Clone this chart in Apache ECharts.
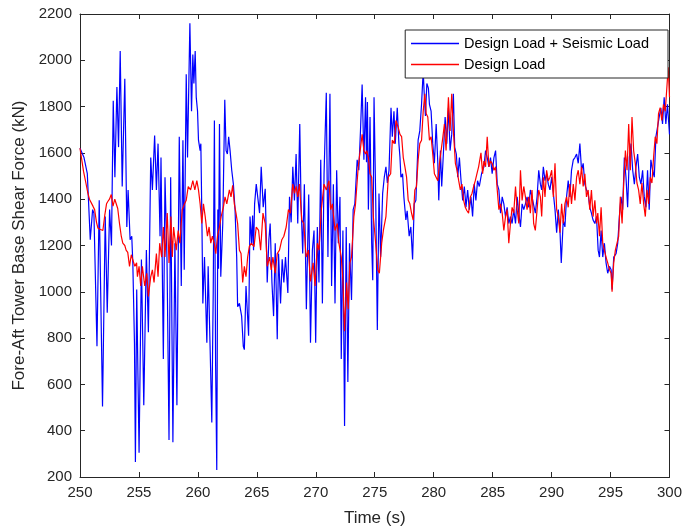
<!DOCTYPE html>
<html>
<head>
<meta charset="utf-8">
<script src="https://cdn.jsdelivr.net/npm/echarts@6/dist/echarts.min.js"></script>
<style>
  html, body { margin: 0; padding: 0; background: #fff; }
  #chart { width: 685px; height: 532px; }
</style>
</head>
<body>
<div id="chart"></div>
<script>
// Design Load + Seismic Load (blue)
var seismicTime = [
  250.0, 250.34, 250.62, 250.87, 251.07, 251.18, 251.44, 251.63, 251.91, 252.14,
  252.31, 252.51, 252.67, 252.82, 252.96, 253.13, 253.27, 253.41, 253.58, 253.8,
  253.97, 254.08, 254.25, 254.39, 254.48, 254.62, 254.7, 254.81, 255.01, 255.21,
  255.41, 255.63, 255.8, 256.0, 256.14, 256.33, 256.48, 256.62, 256.79, 256.87,
  257.07, 257.21, 257.38, 257.55, 257.69, 257.88, 258.05, 258.22, 258.42, 258.59,
  258.73, 258.84, 259.01, 259.12, 259.32, 259.46, 259.57, 259.66, 259.77, 259.86,
  259.97, 260.05, 260.19, 260.25, 260.33, 260.42, 260.56, 260.76, 260.87, 261.04,
  261.18, 261.3, 261.4, 261.5, 261.6, 261.69, 261.75, 261.83, 261.94, 262.11,
  262.28, 262.39, 262.5, 262.61, 262.73, 262.87, 263.01, 263.15, 263.29, 263.37,
  263.52, 263.71, 263.85, 263.94, 264.08, 264.19, 264.3, 264.42, 264.56, 264.64,
  264.72, 264.81, 264.95, 265.09, 265.23, 265.37, 265.54, 265.71, 265.88, 266.02,
  266.13, 266.28, 266.42, 266.56, 266.73, 266.84, 267.01, 267.15, 267.29, 267.43,
  267.63, 267.77, 267.91, 268.05, 268.19, 268.33, 268.47, 268.64, 268.75, 268.89,
  269.03, 269.2, 269.4, 269.55, 269.71, 269.85, 269.99, 270.13, 270.27, 270.42,
  270.56, 270.7, 270.89, 271.03, 271.2, 271.34, 271.49, 271.63, 271.77, 271.91,
  272.05, 272.16, 272.3, 272.44, 272.58, 272.72, 272.86, 273.03, 273.17, 273.31,
  273.51, 273.65, 273.79, 273.93, 274.08, 274.22, 274.3, 274.38, 274.46, 274.6,
  274.74, 274.83, 274.94, 275.08, 275.22, 275.36, 275.5, 275.67, 275.81, 275.95,
  276.07, 276.21, 276.38, 276.49, 276.63, 276.74, 276.91, 277.05, 277.14, 277.22,
  277.36, 277.47, 277.64, 277.75, 277.92, 278.06, 278.21, 278.35, 278.49, 278.68,
  278.82, 278.97, 279.11, 279.2, 279.3, 279.42, 279.55, 279.64, 279.78, 279.92,
  280.06, 280.21, 280.35, 280.43, 280.57, 280.68, 280.82, 280.97, 281.11, 281.25,
  281.39, 281.53, 281.67, 281.78, 281.92, 282.04, 282.18, 282.32, 282.46, 282.6,
  282.74, 282.88, 283.02, 283.16, 283.3, 283.44, 283.58, 283.72, 283.87, 284.06,
  284.26, 284.4, 284.54, 284.68, 284.82, 284.96, 285.11, 285.25, 285.39, 285.53,
  285.67, 285.81, 285.95, 286.09, 286.23, 286.37, 286.51, 286.65, 286.79, 286.94,
  287.08, 287.22, 287.36, 287.5, 287.64, 287.78, 287.92, 288.06, 288.2, 288.34,
  288.48, 288.62, 288.77, 288.91, 289.05, 289.16, 289.3, 289.44, 289.58, 289.72,
  289.86, 290.01, 290.15, 290.29, 290.43, 290.57, 290.71, 290.82, 290.99, 291.13,
  291.27, 291.41, 291.55, 291.69, 291.84, 291.98, 292.12, 292.26, 292.4, 292.54,
  292.68, 292.82, 292.96, 293.1, 293.24, 293.38, 293.52, 293.67, 293.81, 293.95,
  294.06, 294.2, 294.34, 294.48, 294.62, 294.76, 294.91, 295.05, 295.13, 295.27,
  295.47, 295.61, 295.75, 295.89, 296.03, 296.17, 296.31, 296.45, 296.59, 296.74,
  296.88, 297.02, 297.16, 297.3, 297.44, 297.58, 297.72, 297.86, 298.0, 298.14,
  298.28, 298.42, 298.57, 298.71, 298.85, 298.99, 299.13, 299.27, 299.41, 299.55,
  299.69, 299.83, 300.0
];
var seismicForce = [
  1620, 1580, 1510, 1225, 1355, 1340, 765, 1395, 505, 1325,
  910, 1355, 1200, 1825, 1495, 1885, 1625, 2040, 1455, 1920,
  1280, 1440, 1225, 1240, 1125, 780, 265, 1010, 305, 1140,
  510, 1180, 825, 1580, 1440, 1675, 1440, 1640, 1240, 1580,
  710, 1495, 1140, 360, 1495, 350, 1210, 510, 1670, 1025,
  1655, 1095, 1940, 1580, 2160, 1780, 2025, 1900, 2040, 1840,
  1780, 1655, 1610, 1640, 1350, 950, 1150, 780, 1110, 750,
  435, 1000, 1740, 700, 230, 1355, 1100, 1725, 1065, 1295,
  1830, 1610, 1595, 1670, 1610, 1525, 1465, 1355, 1150, 935,
  950, 895, 765, 750, 1025, 1025, 810, 1325, 1210, 1330,
  1180, 1380, 1465, 1460, 1340, 1540, 1365, 1445, 1040, 1225,
  1295, 1040, 895, 1210, 795, 1165, 950, 1140, 1040, 1150,
  995, 1410, 1300, 1540, 1395, 1595, 1295, 1725, 1380, 1165,
  1465, 925, 1420, 780, 1180, 1265, 780, 1280, 1040, 1570,
  950, 1510, 1860, 1150, 1855, 1025, 1465, 950, 1525, 1210,
  1410, 710, 1265, 420, 1280, 610, 1210, 965, 1355, 1380,
  1570, 1525, 1695, 1895, 1570, 1840, 1560, 1820, 1355, 1755,
  1210, 1050, 1840, 1410, 835, 1425, 1150, 1425, 1495, 1540,
  1470, 1525, 1795, 1670, 1780, 1640, 1795, 1640, 1580, 1495,
  1510, 1410, 1310, 1350, 1240, 1280, 1140, 1380, 1395, 1655,
  1695, 1810, 1955, 1850, 1760, 1900, 1880, 1810, 1780, 1640,
  1555, 1725, 1555, 1395, 1610, 1455, 1595, 1755, 1640, 1795,
  1610, 1680, 1855, 1625, 1595, 1495, 1580, 1480, 1395, 1455,
  1365, 1440, 1355, 1410, 1325, 1465, 1395, 1480, 1455, 1510,
  1540, 1610, 1580, 1540, 1580, 1510, 1580, 1610, 1465, 1440,
  1340, 1410, 1380, 1325, 1365, 1295, 1325, 1295, 1355, 1295,
  1410, 1340, 1280, 1380, 1355, 1380, 1410, 1365, 1440, 1410,
  1410, 1340, 1410, 1525, 1465, 1440, 1540, 1480, 1510, 1465,
  1440, 1495, 1425, 1355, 1255, 1355, 1265, 1125, 1310, 1280,
  1410, 1480, 1410, 1525, 1570, 1580, 1595, 1555, 1640, 1525,
  1555, 1465, 1440, 1425, 1365, 1340, 1310, 1295, 1325, 1180,
  1150, 1265, 1150, 1210, 1125, 1080, 1110, 1095, 1010, 1150,
  1165, 1210, 1325, 1410, 1355, 1580, 1495, 1365, 1580, 1640,
  1525, 1465, 1540, 1595, 1495, 1465, 1525, 1410, 1365, 1525,
  1355, 1570, 1525, 1495, 1670, 1670, 1755, 1795, 1725, 1840,
  1725, 1810, 1680
];

// Design Load (red)
var designTime = [
  250.0, 250.3, 250.5, 250.65, 250.8, 250.96, 251.1, 251.24, 251.4, 251.52,
  251.7, 251.94, 252.1, 252.25, 252.36, 252.5, 252.65, 252.8, 252.95, 253.07,
  253.2, 253.35, 253.5, 253.63, 253.8, 253.91, 254.05, 254.2, 254.35, 254.48,
  254.65, 254.8, 254.87, 255.01, 255.15, 255.29, 255.49, 255.66, 255.8, 256.0,
  256.14, 256.28, 256.48, 256.62, 256.76, 256.93, 257.07, 257.21, 257.4, 257.55,
  257.71, 257.83, 257.94, 258.16, 258.33, 258.47, 258.67, 258.87, 259.01, 259.18,
  259.38, 259.57, 259.74, 259.91, 260.05, 260.19, 260.33, 260.47, 260.62, 260.81,
  260.95, 261.09, 261.23, 261.38, 261.52, 261.66, 261.83, 261.97, 262.16, 262.3,
  262.45, 262.67, 262.81, 262.95, 263.09, 263.23, 263.37, 263.52, 263.66, 263.8,
  263.94, 264.08, 264.22, 264.36, 264.53, 264.76, 264.95, 265.15, 265.32, 265.52,
  265.71, 265.88, 266.08, 266.22, 266.36, 266.56, 266.73, 266.92, 267.12, 267.29,
  267.49, 267.68, 267.85, 268.05, 268.19, 268.33, 268.47, 268.61, 268.81, 268.98,
  269.18, 269.37, 269.55, 269.77, 269.94, 270.13, 270.27, 270.47, 270.7, 270.89,
  271.12, 271.26, 271.4, 271.63, 271.82, 271.96, 272.16, 272.3, 272.44, 272.61,
  272.75, 272.89, 273.03, 273.23, 273.37, 273.6, 273.74, 273.93, 274.08, 274.22,
  274.32, 274.46, 274.6, 274.74, 274.88, 275.08, 275.25, 275.39, 275.59, 275.73,
  275.95, 276.15, 276.35, 276.49, 276.66, 276.8, 276.99, 277.14, 277.28, 277.42,
  277.56, 277.7, 277.84, 277.98, 278.12, 278.26, 278.4, 278.54, 278.68, 278.82,
  278.97, 279.11, 279.25, 279.36, 279.5, 279.64, 279.78, 279.92, 280.06, 280.21,
  280.35, 280.49, 280.63, 280.77, 280.91, 281.05, 281.25, 281.39, 281.53, 281.67,
  281.84, 281.98, 282.12, 282.26, 282.4, 282.54, 282.68, 282.82, 282.96, 283.11,
  283.25, 283.39, 283.53, 283.67, 283.81, 284.01, 284.15, 284.26, 284.4, 284.54,
  284.68, 284.82, 284.96, 285.11, 285.25, 285.39, 285.53, 285.67, 285.81, 285.95,
  286.09, 286.23, 286.37, 286.51, 286.65, 286.79, 286.94, 287.08, 287.22, 287.36,
  287.5, 287.64, 287.78, 287.92, 288.06, 288.2, 288.34, 288.48, 288.62, 288.77,
  288.91, 289.05, 289.16, 289.3, 289.44, 289.58, 289.72, 289.86, 290.01, 290.15,
  290.29, 290.43, 290.57, 290.71, 290.85, 290.99, 291.13, 291.27, 291.41, 291.55,
  291.69, 291.84, 291.98, 292.12, 292.26, 292.4, 292.54, 292.68, 292.82, 292.96,
  293.1, 293.24, 293.38, 293.52, 293.67, 293.81, 293.92, 294.06, 294.2, 294.34,
  294.48, 294.62, 294.76, 294.91, 295.05, 295.13, 295.27, 295.41, 295.55, 295.69,
  295.83, 295.98, 296.12, 296.26, 296.4, 296.54, 296.68, 296.82, 296.96, 297.1,
  297.24, 297.38, 297.52, 297.66, 297.81, 297.95, 298.09, 298.23, 298.37, 298.51,
  298.65, 298.79, 298.93, 299.07, 299.21, 299.35, 299.49, 299.64, 299.78, 299.89,
  300.0
];
var designForce = [
  1620, 1520, 1470, 1430, 1400, 1400, 1370, 1355, 1300, 1275,
  1270, 1265, 1330, 1380, 1390, 1400, 1420, 1370, 1400, 1400,
  1360, 1295, 1240, 1210, 1200, 1180, 1170, 1110, 1160, 1165,
  1110, 1125, 1065, 1110, 1025, 1110, 1025, 1080, 980, 1065,
  1095, 1040, 1165, 1065, 1210, 1150, 1280, 1150, 1340, 1125,
  1325, 1150, 1280, 1180, 1265, 1210, 1355, 1380, 1395, 1455,
  1440, 1480, 1440, 1480, 1440, 1380, 1295, 1380, 1325, 1240,
  1280, 1210, 1240, 1210, 1165, 1240, 1280, 1325, 1365, 1410,
  1380, 1440, 1410, 1460, 1380, 1340, 1295, 1180, 1165, 1040,
  1110, 1065, 1150, 1195, 1210, 1195, 1280, 1265, 1180, 1340,
  1295, 1110, 1150, 1095, 1150, 1080, 1165, 1180, 1225, 1240,
  1280, 1355, 1340, 1465, 1425, 1455, 1410, 1465, 1310, 1295,
  1150, 1180, 1045, 1125, 1025, 1210, 1180, 1355, 1465, 1440,
  1480, 1355, 1380, 1265, 1295, 1210, 1150, 1050, 830, 1040,
  925, 1125, 1150, 1325, 1380, 1540, 1540, 1680, 1610, 1595,
  1610, 1580, 1510, 1495, 1325, 1210, 1095, 1080, 1210, 1265,
  1325, 1495, 1510, 1655, 1640, 1740, 1710, 1680, 1670, 1580,
  1540, 1495, 1395, 1380, 1340, 1310, 1440, 1455, 1570, 1640,
  1655, 1780, 1855, 1770, 1755, 1655, 1670, 1595, 1510, 1510,
  1480, 1555, 1610, 1665, 1725, 1610, 1840, 1695, 1855, 1695,
  1555, 1525, 1480, 1440, 1465, 1395, 1365, 1350, 1340, 1410,
  1425, 1455, 1480, 1510, 1540, 1600, 1510, 1565, 1540, 1670,
  1540, 1565, 1555, 1525, 1540, 1440, 1355, 1380, 1340, 1265,
  1325, 1355, 1210, 1295, 1365, 1340, 1455, 1355, 1295, 1525,
  1395, 1455, 1410, 1355, 1410, 1340, 1440, 1295, 1265, 1355,
  1440, 1410, 1325, 1495, 1410, 1525, 1480, 1495, 1525, 1410,
  1555, 1355, 1325, 1255, 1380, 1295, 1380, 1410, 1365, 1465,
  1380, 1465, 1395, 1495, 1525, 1465, 1540, 1455, 1510, 1410,
  1440, 1355, 1440, 1325, 1395, 1295, 1340, 1240, 1365, 1210,
  1180, 1150, 1125, 1095, 1080, 1000, 1125, 1180, 1210, 1240,
  1410, 1295, 1470, 1610, 1525, 1725, 1525, 1755, 1610, 1555,
  1470, 1440, 1380, 1470, 1380, 1325, 1440, 1380, 1495, 1470,
  1580, 1670, 1640, 1770, 1795, 1740, 1810, 1780, 1885, 1970,
  1840
];

var xTicks = { min: 250, max: 300, interval: 5 };
var yTicks = { min: 200, max: 2200, interval: 200 };

var seismicData = seismicTime.map(function (t, i) { return [t, seismicForce[i]]; });
var designData = designTime.map(function (t, i) { return [t, designForce[i]]; });

var font = '"Liberation Sans", Arial, Helvetica, sans-serif';
var axisColor = '#262626';
var blue = '#0000ff';
var red = '#ff0000';

function frameAxis(pos, range, showLabel, extra) {
    var ax = {
        type: 'value',
        position: pos,
        min: range.min,
        max: range.max,
        interval: range.interval,
        axisLine: { show: true, onZero: false, lineStyle: { color: axisColor, width: 1 } },
        axisTick: { show: true, inside: true, length: 5, lineStyle: { color: axisColor } },
        axisLabel: {
            show: showLabel,
            color: axisColor,
            fontSize: 15,
            fontFamily: font,
            margin: 8,
            formatter: function (v) { return String(v); }
        },
        splitLine: { show: false }
    };
    for (var k in extra) ax[k] = extra[k];
    return ax;
}

var chart = echarts.init(document.getElementById('chart'), null, { renderer: 'canvas' });

var option = {
    animation: false,
    backgroundColor: '#fff',
    color: [blue, red],
    textStyle: { fontFamily: font },
    grid: { left: 80, right: 13, top: 14, bottom: 55, containLabel: false },
    legend: {
        orient: 'vertical',
        right: 17,
        top: 30,
        padding: [6, 19, 6, 5],
        itemGap: 6,
        itemWidth: 48,
        itemHeight: 14,
        backgroundColor: '#fff',
        borderColor: axisColor,
        borderWidth: 1,
        borderRadius: 0,
        itemStyle: { opacity: 0 },
        lineStyle: { width: 1.6 },
        textStyle: { fontSize: 14.5, color: '#000', fontFamily: font },
        data: ['Design Load + Seismic Load', 'Design Load']
    },
    xAxis: [
        frameAxis('bottom', xTicks, true, {
            name: 'Time (s)',
            nameLocation: 'middle',
            nameGap: 33,
            nameTextStyle: { fontSize: 17, color: axisColor, fontFamily: font }
        }),
        frameAxis('top', xTicks, false, {})
    ],
    yAxis: [
        frameAxis('left', yTicks, true, {
            name: 'Fore-Aft Tower Base Shear Force (kN)',
            nameLocation: 'middle',
            nameGap: 50,
            nameTextStyle: { fontSize: 17, color: axisColor, fontFamily: font }
        }),
        frameAxis('right', yTicks, false, {})
    ],
    series: [
        {
            name: 'Design Load + Seismic Load',
            type: 'line',
            data: seismicData,
            symbol: 'none',
            lineStyle: { color: blue, width: 1.2 },
            itemStyle: { color: blue }
        },
        {
            name: 'Design Load',
            type: 'line',
            data: designData,
            symbol: 'none',
            lineStyle: { color: red, width: 1.2 },
            itemStyle: { color: red }
        }
    ]
};

chart.setOption(option);

window.addEventListener('resize', function () {
    chart.resize();
});
</script>
</body>
</html>
